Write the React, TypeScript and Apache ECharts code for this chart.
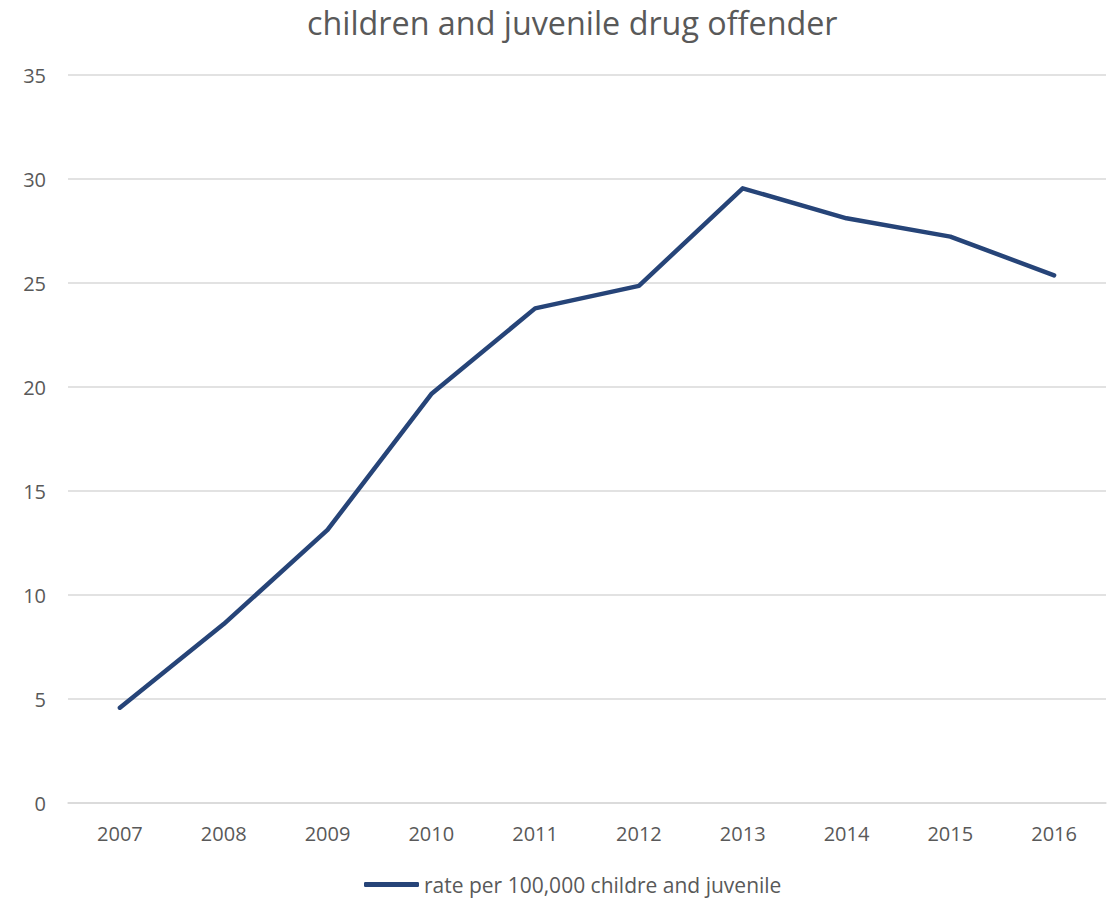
import React, { useEffect, useRef } from "react";
import * as echarts from "echarts";

// Drug offender rate per 100,000 children and juveniles, by year
const years: string[] = ["2007", "2008", "2009", "2010", "2011", "2012", "2013", "2014", "2015", "2016"];
const rates: number[] = [4.58, 8.6, 13.13, 19.66, 23.78, 24.86, 29.55, 28.11, 27.23, 25.37];
const seriesName = "rate per 100,000 childre and juvenile";
const chartTitle = "children and juvenile drug offender";

const textColor = "#595959";
const gridColor = "#d9d9d9";
const lineColor = "#264478";
const fontFamily = "'Open Sans', 'Liberation Sans', sans-serif";

export default function App() {
  const ref = useRef<HTMLDivElement>(null);

  useEffect(() => {
    if (!ref.current) return;
    const chart = echarts.init(ref.current, undefined, { renderer: "svg" });
    chart.setOption({
      animation: false,
      backgroundColor: "#ffffff",
      title: {
        text: chartTitle,
        left: 302,
        top: 1,
        textStyle: {
          color: textColor,
          fontFamily,
          fontSize: 32.3,
          fontWeight: "normal",
        },
      },
      grid: {
        left: 68,
        right: 9,
        top: 75,
        bottom: 97,
        containLabel: false,
      },
      xAxis: {
        type: "category",
        data: years,
        boundaryGap: true,
        axisLine: { show: true, lineStyle: { color: gridColor, width: 1.5 } },
        axisTick: { show: false },
        axisLabel: {
          color: textColor,
          fontFamily,
          fontSize: 20,
          margin: 20,
        },
      },
      yAxis: {
        type: "value",
        min: 0,
        max: 35,
        interval: 5,
        axisLine: { show: false },
        axisTick: { show: false },
        splitLine: { show: true, lineStyle: { color: gridColor, width: 1.5 } },
        axisLabel: {
          color: textColor,
          fontFamily,
          fontSize: 20,
          margin: 22,
        },
      },
      legend: {
        show: true,
        top: 874,
        left: 364,
        padding: 0,
        icon: "roundRect",
        itemWidth: 55,
        itemHeight: 5,
        textStyle: {
          color: textColor,
          fontFamily,
          fontSize: 21,
        },
        data: [seriesName],
      },
      series: [
        {
          name: seriesName,
          type: "line",
          data: rates,
          showSymbol: false,
          symbol: "none",
          color: lineColor,
          lineStyle: {
            color: lineColor,
            width: 4.5,
            cap: "round",
            join: "round",
          },
        },
      ],
    });
    return () => {
      chart.dispose();
    };
  }, []);

  return (
    <div
      ref={ref}
      style={{ position: "absolute", left: 0, top: 0, width: 1115, height: 900 }}
    />
  );
}
